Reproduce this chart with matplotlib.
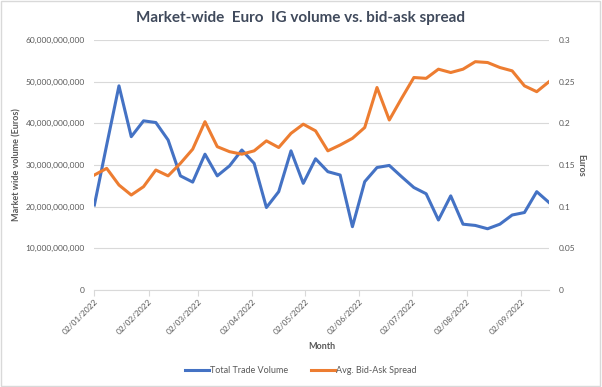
import pandas as pd
import matplotlib
matplotlib.use('Agg')
import matplotlib.pyplot as plt
import matplotlib.dates as mdates
from matplotlib.ticker import FuncFormatter, MultipleLocator
from matplotlib.lines import Line2D
from matplotlib.patches import Rectangle

# weekly observations (dd/mm/yyyy in the source chart)
weeks = ['2022-01-02', '2022-01-09', '2022-01-16', '2022-01-23', '2022-01-30',
         '2022-02-06', '2022-02-13', '2022-02-20', '2022-02-27', '2022-03-06',
         '2022-03-13', '2022-03-20', '2022-03-27', '2022-04-03', '2022-04-10',
         '2022-04-17', '2022-04-24', '2022-05-01', '2022-05-08', '2022-05-15',
         '2022-05-22', '2022-05-29', '2022-06-05', '2022-06-12', '2022-06-19',
         '2022-06-26', '2022-07-03', '2022-07-10', '2022-07-17', '2022-07-24',
         '2022-07-31', '2022-08-07', '2022-08-14', '2022-08-21', '2022-08-28',
         '2022-09-04', '2022-09-11', '2022-09-18']

# total trade volume, billions of euros
volume_bn = [20.4, 34.8, 49.0, 36.8, 40.6, 40.2, 36.0, 27.4, 25.9, 32.6,
             27.4, 29.8, 33.6, 30.4, 19.8, 23.6, 33.4, 25.6, 31.5, 28.4,
             27.6, 15.2, 26.0, 29.4, 29.9, 27.2, 24.6, 23.1, 16.8, 22.6,
             15.8, 15.5, 14.7, 15.8, 18.0, 18.6, 23.6, 21.0]

# average bid-ask spread, euros
spread = [0.138, 0.146, 0.126, 0.114, 0.124, 0.144, 0.137, 0.152, 0.169, 0.202,
          0.172, 0.166, 0.163, 0.167, 0.179, 0.171, 0.188, 0.199, 0.191, 0.167,
          0.174, 0.182, 0.195, 0.243, 0.204, 0.230, 0.255, 0.254, 0.265, 0.261,
          0.265, 0.274, 0.273, 0.267, 0.263, 0.245, 0.238, 0.250]

tick_dates = ['2022-01-02', '2022-02-02', '2022-03-02', '2022-04-02', '2022-05-02',
              '2022-06-02', '2022-07-02', '2022-08-02', '2022-09-02']

dates = pd.to_datetime(weeks)
volume = [v * 1e9 for v in volume_bn]

blue = '#4472C4'
orange = '#ED7D31'
grey = '#595959'
font = ['Lato', 'DejaVu Sans']
plt.rcParams['font.family'] = font

fig = plt.figure(figsize=(6.02, 3.87), dpi=100)
ax = fig.add_axes([0.1568, 0.2506, 0.912 - 0.1568, 0.8966 - 0.2506])
ax2 = ax.twinx()

ax.plot(dates, volume, color=blue, lw=2.2, solid_joinstyle='round', zorder=3)
ax2.plot(dates, spread, color=orange, lw=2.2, solid_joinstyle='round', zorder=3)

ax.set_ylim(0, 60e9)
ax.yaxis.set_major_locator(MultipleLocator(10e9))
ax.yaxis.set_major_formatter(FuncFormatter(lambda v, p: f'{v:,.0f}'))
ax2.set_ylim(0, 0.3)
ax2.yaxis.set_major_locator(MultipleLocator(0.05))
ax2.yaxis.set_major_formatter(FuncFormatter(lambda v, p: f'{v:g}'))

ax.set_xlim(dates[0], dates[-1])
ax.set_xticks(pd.to_datetime(tick_dates))
ax.xaxis.set_major_formatter(mdates.DateFormatter('%d/%m/%Y'))
plt.setp(ax.get_xticklabels(), rotation=45, ha='right', rotation_mode='anchor')

ax.grid(axis='y', color='#D9D9D9', lw=0.8)
ax.set_axisbelow(True)
for a in (ax, ax2):
    for s in a.spines.values():
        s.set_visible(False)
ax.spines['bottom'].set_visible(True)
ax.spines['bottom'].set_color('#D9D9D9')
ax.tick_params(axis='x', colors='#D9D9D9', labelcolor=grey, labelsize=6, length=4, width=0.8, pad=2)
ax.tick_params(axis='y', length=0, labelcolor=grey, labelsize=6, pad=7)
ax2.tick_params(axis='y', length=0, labelcolor=grey, labelsize=6, pad=7)

ax.set_ylabel('Market wide volume (Euros)', fontsize=6.5, fontweight='bold', color=grey, labelpad=3)
ax2.set_ylabel('Euros', fontsize=6.5, fontweight='bold', color=grey, rotation=270, labelpad=7)
ax.set_xlabel('Month', fontsize=6.5, fontweight='bold', color=grey, labelpad=4)

fig.text(0.5, 0.953, 'Market-wide  Euro  IG volume vs. bid-ask spread', ha='center', va='center',
         fontsize=11, fontweight='bold', color='#404A5C')

handles = [Line2D([], [], color=blue, lw=2.2), Line2D([], [], color=orange, lw=2.2)]
fig.legend(handles, ['Total Trade Volume', 'Avg. Bid-Ask Spread'], loc='center',
           bbox_to_anchor=(0.5, 0.043), ncol=2, frameon=False, fontsize=6.5,
           labelcolor=grey, handlelength=2.6, handletextpad=0.2, columnspacing=2.5)

fig.patches.append(Rectangle((0.002, 0.003), 0.994, 0.994, transform=fig.transFigure,
                             fill=False, edgecolor='#D9D9D9', lw=1))

fig.savefig('out.png', dpi=100)
